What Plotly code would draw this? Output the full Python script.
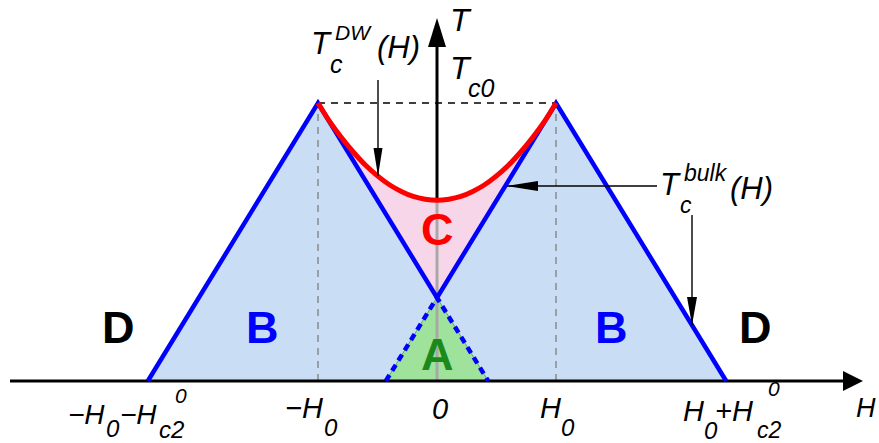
import plotly.graph_objects as go

# ---- phase diagram values (units: H0 = 1, Tc0 = 1) ----
H0 = 1.0
HC2 = 1.43            # H_c2^0 in units of H0
TC0 = 1.0
T_CROSS = 0.30        # where the two inner bulk lines meet at H = 0

# bulk critical line T_c^bulk(H): outer and inner branches
bulk_h = [-2.43, -1.0, 0.0, 1.0, 2.43]
bulk_t = [0.0, 1.0, 0.30, 1.0, 0.0]

# continuation of the inner branches below the crossing (region A)
green_h = [-0.43, 0.0, 0.43]
green_t = [0.0, 0.30, 0.0]

# domain-wall superconductivity line T_c^DW(H)
dw_h = [-1.0, -0.9, -0.8, -0.7, -0.6, -0.5, -0.4, -0.3, -0.2, -0.1, 0.0,
        0.1, 0.2, 0.3, 0.4, 0.5, 0.6, 0.7, 0.8, 0.9, 1.0]
dw_t = [1.0, 0.932, 0.874, 0.822, 0.776, 0.738, 0.706, 0.682, 0.664, 0.654, 0.65,
        0.654, 0.664, 0.682, 0.706, 0.738, 0.776, 0.822, 0.874, 0.932, 1.0]

tick_h = [-2.43, -1.0, 0.0, 1.0, 2.43]

# ---- pixel <-> data helpers for the 879x443 canvas ----
W, HGT = 879, 443
X0, SX = 437.0, 119.0
Y0, SY = 381.0, 278.0


def px(x):
    return (x - X0) / SX


def py(y):
    return (Y0 - y) / SY


def hx(h):
    return X0 + h * SX


BLUE = "#0000ff"
RED = "#ff0000"
FILL_BLUE = "#c9ddf5"
FILL_PINK = "#f8d6ea"
FILL_GREEN = "#9ee29c"
GREEN_TXT = "#1b8a1b"
GRAY = "#a8a8a8"
FONT = "Liberation Sans, Arial, sans-serif"

fig = go.Figure()


def line(xs, ys, color, width, dash="solid", shape="linear"):
    fig.add_trace(go.Scatter(x=xs, y=ys, mode="lines",
                             line=dict(color=color, width=width, dash=dash, shape=shape),
                             hoverinfo="skip"))


def poly(xs, ys, color, edge=None, ew=0):
    fig.add_trace(go.Scatter(x=list(xs) + [xs[0]], y=list(ys) + [ys[0]], mode="lines",
                             fill="toself", fillcolor=color,
                             line=dict(color=edge or color, width=ew),
                             hoverinfo="skip"))


# filled regions
poly(bulk_h, bulk_t, FILL_BLUE)
poly(green_h, green_t, FILL_GREEN, edge="#4cb84c", ew=1)
poly(dw_h + [0.0], dw_t + [T_CROSS], FILL_PINK)

# guide lines at +-H0 and Tc0
for h in (-H0, H0):
    line([h, h], [0.0, TC0], "#8a8a8a", 1.5, dash="7px,6px")
line([-H0, H0], [TC0, TC0], "black", 1.3, dash="7px,6px")

# T axis: gray inside the phase regions, black above
line([0.0, 0.0], [0.0, 0.65], GRAY, 3)
line([0.0, 0.0], [0.65, py(44)], "black", 3)
poly([px(428), 0.0, px(446)], [py(47), py(18), py(47)], "black")

# H axis
line([px(10), px(846)], [0.0, 0.0], "black", 3)
poly([px(843), px(863), px(843)], [py(371), 0.0, py(391)], "black")

# bulk critical lines and their dashed continuation
line(green_h, green_t, BLUE, 4.5, dash="7px,5px")
line(bulk_h, bulk_t, BLUE, 4.5)

# domain-wall line
line(dw_h, dw_t, RED, 5, shape="spline")


# pointer arrows (thin black)
def arrow(x1, y1, x2, y2, head=28, half=5):
    line([px(x1), px(x2)], [py(y1), py(y2)], "black", 1.4)
    if x1 == x2:
        s = 1 if y2 > y1 else -1
        poly([px(x2 - half), px(x2), px(x2 + half)],
             [py(y2 - s * head), py(y2), py(y2 - s * head)], "black")
    else:
        s = 1 if x2 > x1 else -1
        poly([px(x2 - s * head), px(x2), px(x2 - s * head)],
             [py(y2 - half), py(y2), py(y2 + half)], "black")


arrow(378, 80, 378, 176, head=28, half=4.5)
arrow(657, 186, 507, 186, head=31, half=5)
arrow(692, 215, 692, 325, head=28, half=5)


# text helpers
def txt(x, y, s, size, color="black", italic=True, bold=False, anchor="left"):
    if italic:
        s = "<i>" + s + "</i>"
    if bold:
        s = "<b>" + s + "</b>"
    fig.add_annotation(x=px(x), y=py(y), text=s, showarrow=False,
                       xanchor=anchor, yanchor="middle", borderpad=0,
                       font=dict(family=FONT, size=size, color=color))


# region letters
txt(118, 327, "D", 45, italic=False, bold=True, anchor="center")
txt(262, 327, "B", 45, BLUE, italic=False, bold=True, anchor="center")
txt(611, 327, "B", 45, BLUE, italic=False, bold=True, anchor="center")
txt(755, 327, "D", 45, italic=False, bold=True, anchor="center")
txt(437, 229, "C", 45, RED, italic=False, bold=True, anchor="center")
txt(437, 354, "A", 45, GREEN_TXT, italic=False, bold=True, anchor="center")

# axis titles
txt(449, 20, "T", 32)
txt(449, 68, "T", 32)
txt(467, 88, "c0", 25)
txt(866, 408, "H", 27, anchor="center")

# T_c^DW(H)
txt(310, 43, "T", 31)
txt(334, 32, "DW", 21)
txt(329, 64, "c", 25)
txt(376, 47, "(H)", 31)

# T_c^bulk(H)
txt(659, 184, "T", 31)
txt(683, 173, "bulk", 23)
txt(679, 205, "c", 23)
txt(729, 188, "(H)", 31)

# tick labels on the H axis
txt(67, 414, "\u2212H", 28)
txt(105, 428, "0", 24)
txt(119, 414, "\u2212H", 28)
txt(158, 429, "c2", 24)
txt(174, 395, "0", 21)

txt(284, 408, "\u2212H", 29)
txt(323, 427, "0", 24)

txt(hx(tick_h[2]) + 3, 409, "0", 29, anchor="center")

txt(539, 408, "H", 29)
txt(560, 427, "0", 24)

txt(682, 411, "H", 29)
txt(703, 430, "0", 24)
txt(714, 411, "+H", 29)
txt(756, 430, "c2", 23)
txt(767, 388, "0", 21)

fig.update_layout(
    width=W, height=HGT,
    margin=dict(l=0, r=0, t=0, b=0),
    paper_bgcolor="white", plot_bgcolor="white",
    showlegend=False,
    xaxis=dict(range=[px(0), px(W)], visible=False, fixedrange=True),
    yaxis=dict(range=[py(HGT), py(0)], visible=False, fixedrange=True),
)

fig.write_html("out.html")
